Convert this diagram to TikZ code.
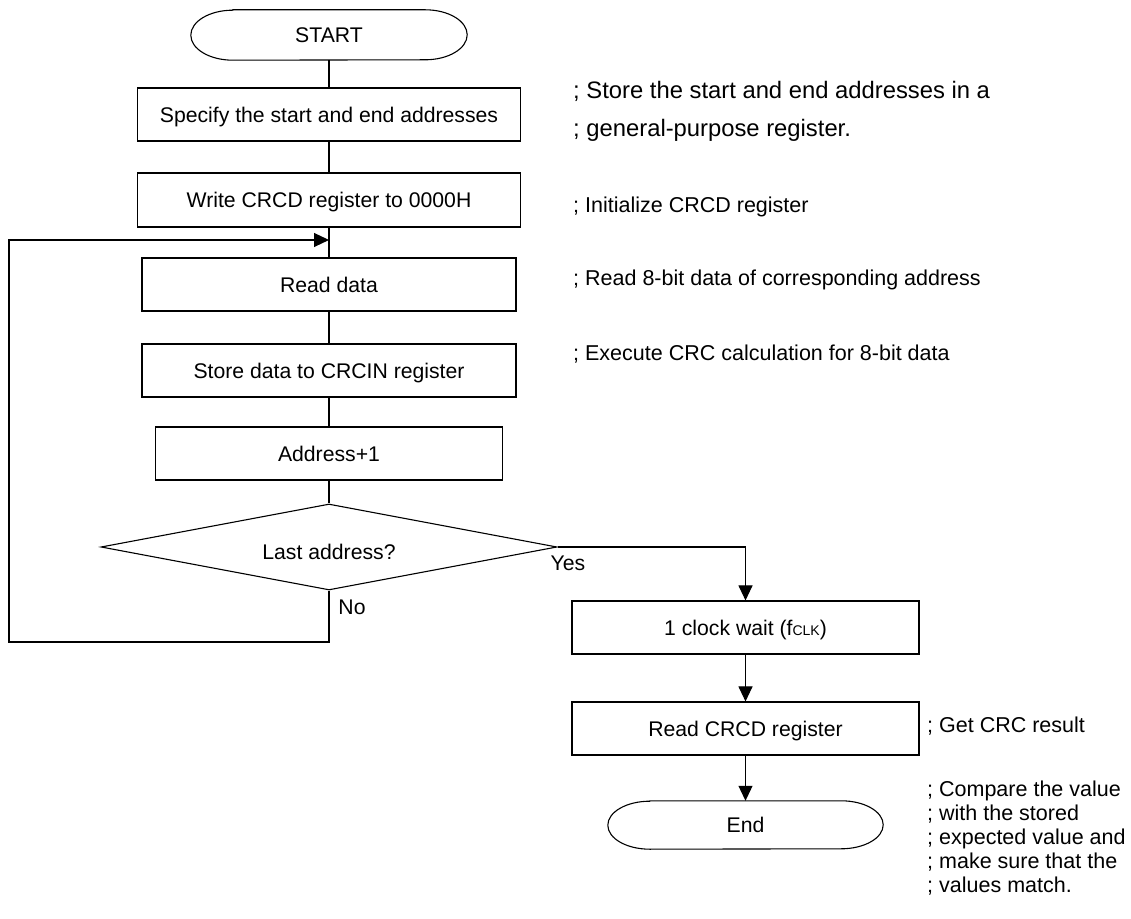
\documentclass[tikz,border=0pt]{standalone}
\usepackage{fontspec}
\setmainfont{Liberation Sans}
\usetikzlibrary{arrows.meta,shapes.geometric}
\begin{document}
\begin{tikzpicture}[x=1pt,y=1pt,
  every node/.style={font=\fontsize{21.2}{25}\selectfont},
  line/.style={draw=black,line width=1.1pt},
  arr/.style={line,-{Triangle[length=15pt,width=14pt]}},
  procbox/.style={line,rectangle,minimum height=53pt,inner sep=0pt,text height=15.2pt,text depth=0pt},
  termbox/.style={rectangle,minimum width=276pt,inner sep=0pt,text height=15.2pt,text depth=0pt},
  comment/.style={anchor=base west,inner sep=0pt,font=\fontsize{21.5}{25}\selectfont},
  bigcomment/.style={anchor=base west,inner sep=0pt,font=\fontsize{23.8}{28}\selectfont},
  flag/.style={inner sep=0pt,text height=15.2pt,text depth=0pt}]
\useasboundingbox (0,0) rectangle (1131,918);
% terminals
\node[termbox,minimum height=50pt] (start) at (329,883) {START};
\draw[line] ([xshift=42pt]start.north west) -- ([xshift=-42pt]start.north east)
  arc[start angle=90,end angle=-90,x radius=42pt,y radius=25pt]
  -- ([xshift=42pt]start.south west)
  arc[start angle=270,end angle=90,x radius=42pt,y radius=25pt] -- cycle;
% process boxes
\node[procbox,minimum width=383pt] (b1) at (329,803.5) {Specify the start and end addresses};
\node[procbox,minimum width=383pt,minimum height=54pt] (b2) at (329,718) {Write CRCD register to 0000H};
\node[procbox,minimum width=374pt] (b3) at (329,633.5) {Read data};
\node[procbox,minimum width=374pt] (b4) at (329,547.5) {Store data to CRCIN register};
\node[procbox,minimum width=347pt] (b5) at (329,464.5) {Address+1};
\node[line,diamond,minimum width=456pt,minimum height=86pt,inner sep=0pt] (dia) at (329,371) {};
\node[flag] (diatext) at (329,366) {Last address?};
\node[procbox,minimum width=347pt] (b6) at (745.5,290.5) {1 clock wait (f\raisebox{-0.5pt}{\fontsize{14}{14}\selectfont CLK})};
\node[procbox,minimum width=347pt] (b7) at (745.5,189.5) {Read CRCD register};
\node[termbox,minimum height=48pt,minimum width=275pt] (end) at (745.5,93) {End};
\draw[line] ([xshift=42pt]end.north west) -- ([xshift=-42pt]end.north east)
  arc[start angle=90,end angle=-90,x radius=42pt,y radius=24pt]
  -- ([xshift=42pt]end.south west)
  arc[start angle=270,end angle=90,x radius=42pt,y radius=24pt] -- cycle;
% labels
\node[flag] (yes) at (568,355) {Yes};
\node[flag] (no) at (352,311) {No};
% connectors
\coordinate (join) at (329,678);
\coordinate (lb) at (9,276);
\draw[line] (start.south) -- (b1.north);
\draw[line] (b1.south) -- (b2.north);
\draw[line] (b2.south) -- (b3.north);
\draw[line] (b3.south) -- (b4.north);
\draw[line] (b4.south) -- (b5.north);
\draw[line] (b5.south) -- (dia.north);
\draw[arr] (dia.south) |- (lb) |- (join);
\draw[arr] (dia.east) -| (b6.north);
\draw[arr] (b6.south) -- (b7.north);
\draw[arr] (b7.south) -- (end.north);
% comments
\node[bigcomment] (c1) at (573,819.5) {; Store the start and end addresses in a};
\node[bigcomment] (c2) at (573,781.5) {; general-purpose register.};
\node[comment] (c3) at (573,705.3) {; Initialize CRCD register};
\node[comment] (c4) at (573,632.3) {; Read 8-bit data of corresponding address};
\node[comment] (c5) at (573,557.3) {; Execute CRC calculation for 8-bit data};
\node[comment] (c6) at (927,185.3) {; Get CRC result};
\node[comment] (c7) at (927,121.3) {; Compare the value};
\node[comment] (c8) at (927,97.3) {; with the stored};
\node[comment] (c9) at (927,73.3) {; expected value and};
\node[comment] (c10) at (927,49.3) {; make sure that the};
\node[comment] (c11) at (927,25.3) {; values match.};
\end{tikzpicture}
\end{document}
